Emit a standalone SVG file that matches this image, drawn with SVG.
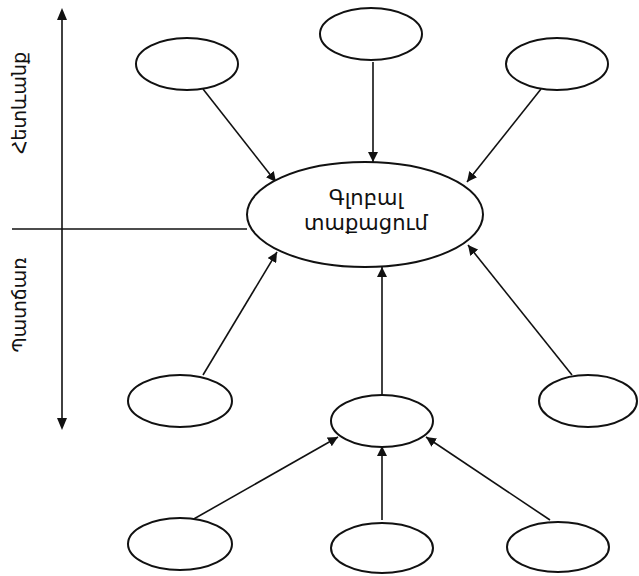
<svg xmlns="http://www.w3.org/2000/svg" width="639" height="576" viewBox="0 0 639 576">
<style>
.n{fill:#fff;stroke:#111;stroke-width:2}
.c{stroke:#111;stroke-width:1.6;fill:none}
.t{font-family:"DejaVu Sans","Noto Sans",sans-serif;fill:#111}
</style>
<defs>
<marker id="ah" viewBox="0 0 10 10" refX="10" refY="5" markerWidth="10" markerHeight="10" markerUnits="userSpaceOnUse" orient="auto">
<path d="M0,0 L10,5 L0,10 z" fill="#111"/>
</marker>
</defs>
<rect width="639" height="576" fill="#fff"/>
<g id="axes">
<line class="c" x1="62" y1="18" x2="62" y2="420"/>
<path d="M62,8 L57,20 L67,20 z" fill="#111"/>
<path d="M62,430 L57,418 L67,418 z" fill="#111"/>
<line class="c" x1="12" y1="229" x2="247" y2="229"/>
<text class="t" font-size="19" text-anchor="middle" transform="translate(26,103) rotate(-90)">Հետևանք</text>
<text class="t" font-size="19" text-anchor="middle" transform="translate(26,305) rotate(-90)">Պատճառ</text>
</g>
<g id="connectors">
<line class="c" x1="203" y1="89" x2="276" y2="182" marker-end="url(#ah)"/>
<line class="c" x1="373" y1="62" x2="373" y2="162" marker-end="url(#ah)"/>
<line class="c" x1="541" y1="89" x2="467" y2="182" marker-end="url(#ah)"/>
<line class="c" stroke-width="1.2" x1="203" y1="375" x2="277" y2="252" marker-end="url(#ah)"/>
<line class="c" x1="382" y1="395" x2="382" y2="267" marker-end="url(#ah)"/>
<line class="c" stroke-width="1.2" x1="572" y1="375" x2="468" y2="245" marker-end="url(#ah)"/>
<line class="c" stroke-width="2" x1="192" y1="520" x2="338" y2="437" marker-end="url(#ah)"/>
<line class="c" stroke-width="2" x1="382" y1="520" x2="382" y2="446" marker-end="url(#ah)"/>
<line class="c" stroke-width="2" x1="550" y1="520" x2="426" y2="437" marker-end="url(#ah)"/>
</g>
<g id="center"><ellipse class="n" cx="365" cy="214.5" rx="118" ry="52.5"/>
<text class="t" font-size="21" text-anchor="middle" x="366" y="205">Գլոբալ</text>
<text class="t" font-size="21" text-anchor="middle" x="366" y="230">տաքացում</text></g>
<g id="top-left"><ellipse class="n" cx="187" cy="64" rx="51" ry="26"/></g>
<g id="top-center"><ellipse class="n" cx="371" cy="34" rx="51" ry="26"/></g>
<g id="top-right"><ellipse class="n" cx="557" cy="64" rx="51" ry="26"/></g>
<g id="mid-left"><ellipse class="n" cx="180" cy="401" rx="52" ry="26"/></g>
<g id="mid-right"><ellipse class="n" cx="588" cy="401" rx="49" ry="26"/></g>
<g id="mid-center"><ellipse class="n" cx="382" cy="421" rx="51" ry="26"/></g>
<g id="bottom-left"><ellipse class="n" cx="180" cy="544" rx="52" ry="26"/></g>
<g id="bottom-center"><ellipse class="n" cx="382" cy="548" rx="51" ry="25"/></g>
<g id="bottom-right"><ellipse class="n" cx="558" cy="547" rx="51" ry="25"/></g>
</svg>
